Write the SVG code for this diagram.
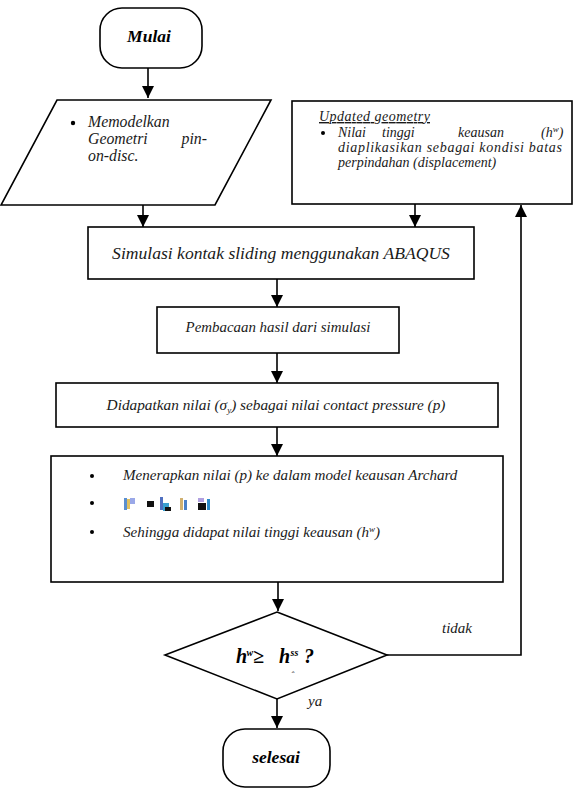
<svg xmlns="http://www.w3.org/2000/svg" width="574" height="789" viewBox="0 0 574 789">
<style>
.s{fill:#fff;stroke:#000;stroke-width:1.6}
.t{font-family:"Liberation Serif","Times New Roman",serif;font-style:italic;fill:#1a1a1a}
.b{font-weight:bold;fill:#000}
.c{fill:none;stroke:#000;stroke-width:1.6}
</style>
<defs>
<marker id="ah" markerWidth="12" markerHeight="13" refX="12" refY="6" orient="auto" markerUnits="userSpaceOnUse">
<path d="M0,0 L12,6 L0,12 Z" fill="#000"/>
</marker>
</defs>
<rect width="574" height="789" fill="#fff"/>
<g id="connectors">
<line class="c" x1="148" y1="68" x2="148" y2="98" marker-end="url(#ah)"/>
<line class="c" x1="143" y1="205" x2="143" y2="227" marker-end="url(#ah)"/>
<line class="c" x1="415" y1="204" x2="415" y2="227" marker-end="url(#ah)"/>
<line class="c" x1="277" y1="279" x2="277" y2="307" marker-end="url(#ah)"/>
<line class="c" x1="277" y1="353" x2="277" y2="383" marker-end="url(#ah)"/>
<line class="c" x1="277" y1="427" x2="277" y2="456" marker-end="url(#ah)"/>
<line class="c" x1="278" y1="582" x2="278" y2="611" marker-end="url(#ah)"/>
<line class="c" x1="277" y1="699" x2="277" y2="728" marker-end="url(#ah)"/>
<polyline class="c" points="387,655 521,655 521,205" marker-end="url(#ah)"/>
<text class="t" x="442" y="633" font-size="15">tidak</text>
<text class="t" x="308" y="706" font-size="15">ya</text>
</g>
<g id="mulai">
<rect class="s" x="100" y="8" width="102" height="60" rx="22"/>
<text class="t b" x="149" y="42" font-size="17.5" text-anchor="middle">Mulai</text>
</g>
<g id="geometri">
<polygon class="s" points="57,100 271,100 215,205 1,205"/>
<circle cx="73" cy="123" r="2.2" fill="#000"/>
<text class="t" x="88" y="127" font-size="15.8">Memodelkan</text>
<text class="t" x="88" y="144" font-size="15.8">Geometri</text>
<text class="t" x="207" y="144" font-size="15.8" text-anchor="end">pin-</text>
<text class="t" x="88" y="161" font-size="15.8">on-disc.</text>
</g>
<g id="updated">
<rect class="s" x="292" y="101" width="280" height="103"/>
<text class="t" x="319" y="121" font-size="14" text-decoration="underline" textLength="111" lengthAdjust="spacing">Updated geometry</text>
<circle cx="323" cy="133" r="2" fill="#000"/>
<text class="t" font-size="14"><tspan x="338" y="137">Nilai</tspan><tspan x="382" y="137">tinggi</tspan><tspan x="458" y="137">keausan</tspan><tspan x="541" y="137">(h<tspan font-size="9" dy="-5">w</tspan><tspan dy="5">)</tspan></tspan></text>
<text class="t" x="338" y="152" font-size="14" textLength="224" lengthAdjust="spacing">diaplikasikan sebagai kondisi batas</text>
<text class="t" x="338" y="167" font-size="14">perpindahan (displacement)</text>
</g>
<g id="simulasi">
<rect class="s" x="88" y="227" width="386" height="52"/>
<text class="t" x="281" y="259" font-size="17.6" text-anchor="middle">Simulasi kontak sliding menggunakan ABAQUS</text>
</g>
<g id="pembacaan">
<rect class="s" x="157" y="307" width="242" height="46"/>
<text class="t" x="278" y="332" font-size="14.9" text-anchor="middle">Pembacaan hasil dari simulasi</text>
</g>
<g id="didapatkan">
<rect class="s" x="56" y="383" width="442" height="44"/>
<text class="t" x="276" y="410" font-size="15.3" text-anchor="middle">Didapatkan nilai (σ<tspan font-size="9" dy="3">y</tspan><tspan dy="-3">) sebagai nilai contact pressure (p)</tspan></text>
</g>
<g id="archard">
<rect class="s" x="51" y="456" width="452" height="126"/>
<circle cx="92" cy="476" r="2" fill="#000"/>
<text class="t" x="123" y="480" font-size="15.1">Menerapkan nilai (p) ke dalam model keausan Archard</text>
<circle cx="92" cy="503" r="2" fill="#000"/>
<g id="formula">
<rect x="124" y="498" width="3" height="12" fill="#5a8fd0"/>
<rect x="127" y="499" width="3" height="10" fill="#e0c060"/>
<rect x="130" y="498" width="5" height="6" fill="#9aa8e8"/>
<rect x="147" y="501" width="7" height="6" fill="#111"/>
<rect x="160" y="497" width="3" height="13" fill="#5070c0"/>
<rect x="163" y="503" width="6" height="8" fill="#3aa0d0"/>
<rect x="165" y="507" width="6" height="4" fill="#111"/>
<rect x="180" y="498" width="3" height="12" fill="#d0b070"/>
<rect x="184" y="500" width="3" height="10" fill="#4a80c8"/>
<rect x="198" y="498" width="6" height="4" fill="#b0a0e0"/>
<rect x="198" y="503" width="8" height="7" fill="#111"/>
<rect x="207" y="499" width="3" height="11" fill="#2a8ac8"/>
</g>
<circle cx="92" cy="532" r="2" fill="#000"/>
<text class="t" x="123" y="537" font-size="15.1">Sehingga didapat nilai tinggi keausan (h<tspan font-size="9" dy="-5">w</tspan><tspan dy="5">)</tspan></text>
</g>
<g id="decision">
<polygon class="s" points="277,612 387,655 277,699 165,655"/>
<text class="t b" y="663" font-size="20"><tspan x="236">h</tspan><tspan x="246.5" font-size="10" dy="-7">w</tspan><tspan x="253" dy="7">≥</tspan><tspan x="279">h</tspan><tspan x="290.5" font-size="10" dy="-7">ss</tspan><tspan x="304" dy="7">?</tspan></text>
<text class="t" x="291" y="678" font-size="9">ˆ</text>
</g>
<g id="selesai">
<rect class="s" x="223" y="729" width="107" height="58" rx="22"/>
<text class="t b" x="276" y="763" font-size="17.5" text-anchor="middle">selesai</text>
</g>
</svg>
